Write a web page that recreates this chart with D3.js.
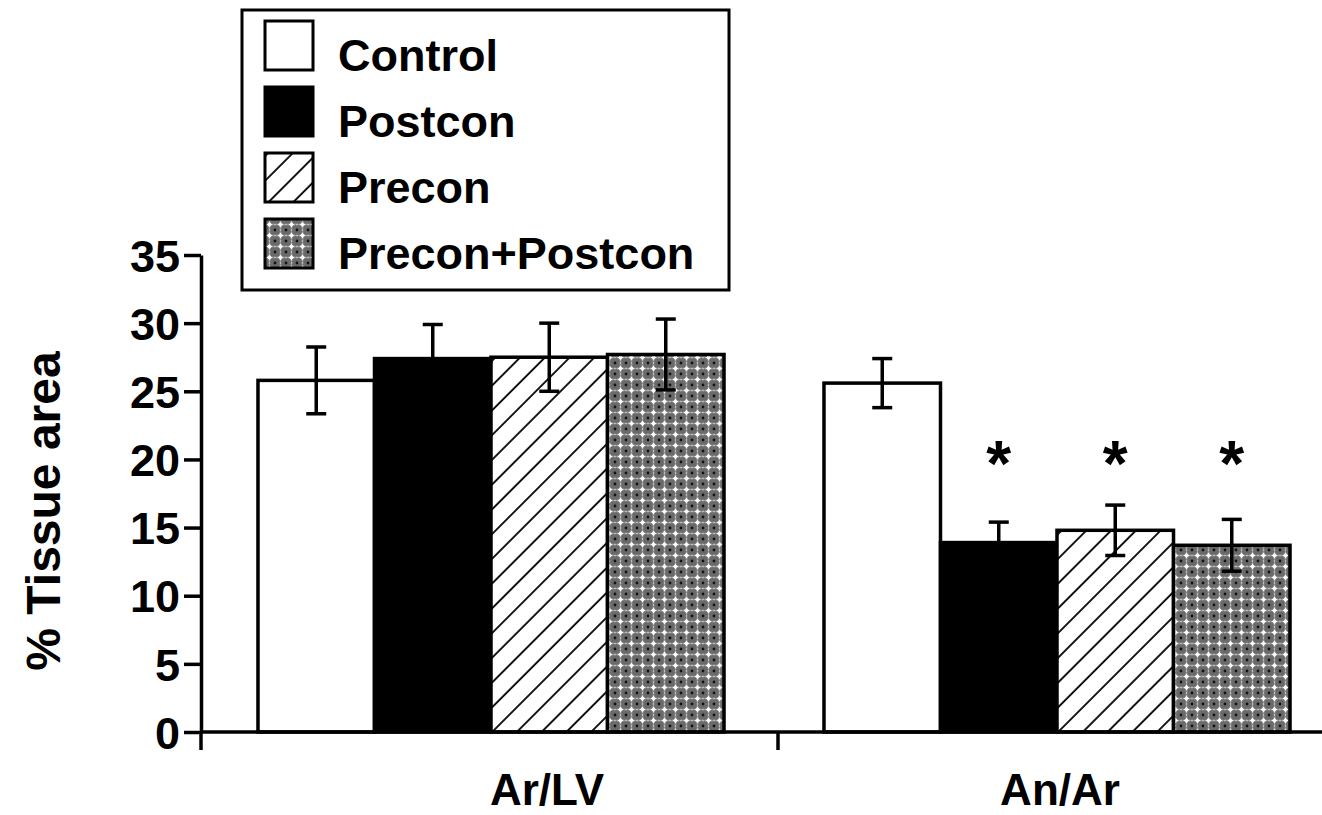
<!DOCTYPE html>
<html>
<head>
<meta charset="utf-8">
<script src="https://cdn.jsdelivr.net/npm/d3@7"></script>
<style>
  body { margin: 0; background: #fff; }
  svg { display: block; font-family: "Liberation Sans", Arial, sans-serif; font-weight: bold; }
</style>
</head>
<body>
<div id="chart"></div>
<script>
// values
const categories = ["Ar/LV", "An/Ar"];
const series = ["Control", "Postcon", "Precon", "Precon+Postcon"];
const meanArLV = [25.8, 27.4, 27.5, 27.7];
const errArLV = [2.45, 2.5, 2.5, 2.6];
const meanAnAr = [25.6, 13.9, 14.8, 13.7];
const errAnAr = [1.8, 1.5, 1.85, 1.9];
const sigArLV = [false, false, false, false];
const sigAnAr = [false, true, true, true];
const yTicks = [0, 5, 10, 15, 20, 25, 30, 35];
const starLevel = 20.5;

const W = 1322, H = 815;
const axisX = 201, baseY = 732;

const rows = [];
categories.forEach((c, ci) => {
  const m = ci === 0 ? meanArLV : meanAnAr;
  const e = ci === 0 ? errArLV : errAnAr;
  const s = ci === 0 ? sigArLV : sigAnAr;
  series.forEach((k, i) => rows.push({cat: c, key: k, i: i, v: m[i], err: e[i], sig: s[i]}));
});

const svg = d3.select("#chart").append("svg")
  .attr("width", W)
  .attr("height", H);

const defs = svg.append("defs");

// diagonal hatch for Precon
const hatch = defs.append("pattern")
  .attr("id", "hatch")
  .attr("patternUnits", "userSpaceOnUse")
  .attr("width", 17.5)
  .attr("height", 17.5)
  .attr("patternTransform", "rotate(45)");
hatch.append("rect").attr("width", 17.5).attr("height", 17.5).attr("fill", "#fff");
hatch.append("line")
  .attr("x1", 1).attr("y1", 0).attr("x2", 1).attr("y2", 17.5)
  .attr("stroke", "#000").attr("stroke-width", 1.8);

// grey dotted screen for Precon+Postcon
const dots = defs.append("pattern")
  .attr("id", "dots")
  .attr("patternUnits", "userSpaceOnUse")
  .attr("width", 11)
  .attr("height", 11);
dots.append("rect").attr("width", 11).attr("height", 11).attr("fill", "#6a6a6a");
dots.append("path")
  .attr("d", "M5.5,2.5V8.5M2.5,5.5H8.5")
  .attr("stroke", "#f4f4f4").attr("stroke-width", 1.6);
dots.append("circle").attr("cx", 5.5).attr("cy", 5.5).attr("r", 1.8).attr("fill", "#fff");
dots.append("circle").attr("cx", 0).attr("cy", 0).attr("r", 1.4).attr("fill", "#111");
dots.append("circle").attr("cx", 11).attr("cy", 0).attr("r", 1.4).attr("fill", "#111");
dots.append("circle").attr("cx", 0).attr("cy", 11).attr("r", 1.4).attr("fill", "#111");
dots.append("circle").attr("cx", 11).attr("cy", 11).attr("r", 1.4).attr("fill", "#111");
dots.append("path")
  .attr("d", "M0,5.5H1.5M9.5,5.5H11M5.5,0V1.5M5.5,9.5V11")
  .attr("stroke", "#bbb").attr("stroke-width", 1.4);

const fills = d3.scaleOrdinal()
  .domain(series)
  .range(["#fff", "#000", "url(#hatch)", "url(#dots)"]);

const y = d3.scaleLinear().domain([0, 35]).range([baseY, 255]);

const x0 = d3.scaleBand()
  .domain(categories)
  .range([208, 1340]);

const x1 = d3.scaleBand()
  .domain(series)
  .range([0, x0.bandwidth()])
  .paddingOuter(0.429);

// bars
const groups = svg.selectAll(".group")
  .data(categories)
  .enter()
  .append("g")
  .attr("class", "group")
  .attr("transform", d => `translate(${x0(d)},0)`);

groups.selectAll(".bar")
  .data(c => rows.filter(r => r.cat === c))
  .enter()
  .append("rect")
  .attr("class", "bar")
  .attr("x", d => x1(d.key))
  .attr("y", d => y(d.v))
  .attr("width", x1.bandwidth())
  .attr("height", d => y(0) - y(d.v))
  .attr("fill", d => fills(d.key))
  .attr("stroke", "#000")
  .attr("stroke-width", 3.5);

// error bars
const err = groups.selectAll(".err")
  .data(c => rows.filter(r => r.cat === c))
  .enter()
  .append("g")
  .attr("class", "err")
  .attr("transform", d => `translate(${x1(d.key) + x1.bandwidth() / 2},0)`)
  .attr("stroke", "#000")
  .attr("stroke-width", 3.5);

err.append("line")
  .attr("y1", d => y(d.v + d.err))
  .attr("y2", d => y(d.v - d.err));
err.append("line")
  .attr("x1", -10).attr("x2", 10)
  .attr("y1", d => y(d.v + d.err))
  .attr("y2", d => y(d.v + d.err));
err.append("line")
  .attr("x1", -10).attr("x2", 10)
  .attr("y1", d => y(d.v - d.err))
  .attr("y2", d => y(d.v - d.err));

// significance stars
groups.selectAll(".star")
  .data(c => rows.filter(r => r.cat === c && r.sig))
  .enter()
  .append("text")
  .attr("class", "star")
  .attr("x", d => x1(d.key) + x1.bandwidth() / 2)
  .attr("y", d => y(starLevel))
  .attr("dy", "0.52em")
  .attr("text-anchor", "middle")
  .style("font-size", "64px")
  .text("*");

// y axis
const yAxis = svg.append("g")
  .attr("transform", `translate(${axisX},0)`)
  .call(d3.axisLeft(y).tickValues(yTicks).tickSize(17).tickSizeOuter(0).tickPadding(4));
yAxis.selectAll("path, line").attr("stroke", "#000").attr("stroke-width", 3.5);
yAxis.selectAll("text")
  .attr("fill", "#000")
  .attr("dy", "0.36em")
  .style("font-size", "45px")
  .style("font-family", "'Liberation Sans', Arial, sans-serif")
  .style("font-weight", "bold");
yAxis.append("line")
  .attr("y1", baseY).attr("y2", baseY + 18)
  .attr("stroke", "#000").attr("stroke-width", 3.5);

// x axis
const xAxis = svg.append("g")
  .attr("transform", `translate(0,${baseY})`)
  .call(d3.axisBottom(x0).tickSize(0).tickPadding(42));
xAxis.select(".domain").remove();
xAxis.selectAll("text")
  .attr("fill", "#000")
  .attr("dx", (d, i) => i === 0 ? 56 : 3)
  .style("font-size", "44px")
  .style("font-family", "'Liberation Sans', Arial, sans-serif")
  .style("font-weight", "bold");
xAxis.append("line")
  .attr("x1", axisX).attr("x2", W)
  .attr("stroke", "#000").attr("stroke-width", 3.5);
xAxis.selectAll(".sep")
  .data(categories)
  .enter()
  .append("line")
  .attr("class", "sep")
  .attr("x1", d => x0(d) + x0.bandwidth() + 4)
  .attr("x2", d => x0(d) + x0.bandwidth() + 4)
  .attr("y1", 0).attr("y2", 18)
  .attr("stroke", "#000").attr("stroke-width", 3.5);

// y title
svg.append("text")
  .attr("transform", "translate(60,511) rotate(-90)")
  .attr("text-anchor", "middle")
  .style("font-size", "48px")
  .text("% Tissue area");

// legend
const legend = svg.append("g").attr("transform", "translate(242,10)");
legend.append("rect")
  .attr("width", 487)
  .attr("height", 280)
  .attr("fill", "#fff")
  .attr("stroke", "#000")
  .attr("stroke-width", 3);

const item = legend.selectAll(".item")
  .data(series)
  .enter()
  .append("g")
  .attr("class", "item")
  .attr("transform", (d, i) => `translate(0,${11 + i * 66})`);

item.append("rect")
  .attr("x", 23)
  .attr("width", 48)
  .attr("height", 49)
  .attr("fill", d => fills(d))
  .attr("stroke", "#000")
  .attr("stroke-width", 3);

item.append("text")
  .attr("x", 96)
  .attr("y", 50)
  .style("font-size", "45px")
  .text(d => d);
</script>
</body>
</html>
